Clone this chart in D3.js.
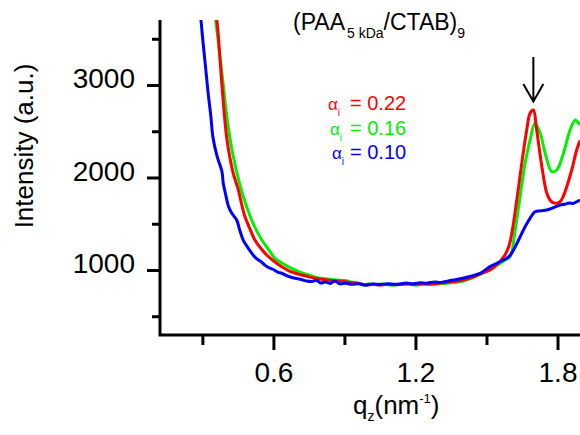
<!DOCTYPE html>
<html>
<head>
<meta charset="utf-8">
<script src="https://cdn.jsdelivr.net/npm/d3@7"></script>
<style>
  body { margin: 0; background: #fff; }
  svg { display: block; font-family: Arial, "Liberation Sans", sans-serif; }
</style>
</head>
<body>
<svg id="chart" width="580" height="435"></svg>
<script>
// curves, [q_z (nm^-1), intensity (a.u.)]
var blue = [[0.292,3760],[0.304,3430],[0.314,3180],[0.324,2920],[0.335,2680],[0.345,2430],[0.362,2230],[0.383,2060],[0.388,1940],[0.398,1820],[0.410,1690],[0.425,1610],[0.445,1540],[0.458,1430],[0.473,1320],[0.49,1250],[0.515,1160],[0.53,1120],[0.548,1090],[0.565,1050],[0.585,1020],[0.6,1005],[0.62,975],[0.635,965],[0.66,935],[0.691,910],[0.72,895],[0.74,880],[0.762,875],[0.78,890],[0.80,860],[0.82,870],[0.84,855],[0.86,880],[0.88,850],[0.903,856],[0.93,845],[0.96,850],[0.991,838],[1.02,848],[1.05,842],[1.08,852],[1.11,846],[1.135,849],[1.16,858],[1.19,852],[1.22,862],[1.25,858],[1.28,870],[1.31,866],[1.34,882],[1.37,895],[1.40,910],[1.43,930],[1.45,945],[1.473,964],[1.495,1000],[1.515,1036],[1.55,1080],[1.586,1126],[1.600,1160],[1.614,1216],[1.635,1320],[1.656,1432],[1.67,1500],[1.684,1559],[1.705,1630],[1.73,1640],[1.755,1649],[1.78,1670],[1.811,1703],[1.83,1710],[1.85,1725],[1.865,1720],[1.881,1738],[1.895,1757]];
var red = [[0.355,3760],[0.361,3700],[0.374,3292],[0.387,2859],[0.403,2427],[0.429,2059],[0.452,1865],[0.465,1720],[0.480,1576],[0.50,1450],[0.522,1324],[0.545,1240],[0.572,1162],[0.60,1100],[0.635,1036],[0.67,985],[0.72,946],[0.76,920],[0.804,899],[0.85,885],[0.88,880],[0.903,874],[0.94,860],[0.97,850],[0.991,838],[1.02,845],[1.05,838],[1.08,845],[1.11,840],[1.135,843],[1.17,848],[1.20,842],[1.23,852],[1.262,849],[1.29,855],[1.32,862],[1.35,872],[1.38,880],[1.402,892],[1.44,920],[1.473,957],[1.515,1000],[1.545,1060],[1.578,1162],[1.595,1260],[1.607,1397],[1.628,1757],[1.649,2153],[1.670,2513],[1.684,2694],[1.698,2730],[1.712,2513],[1.734,2117],[1.755,1829],[1.772,1745],[1.790,1721],[1.811,1738],[1.825,1800],[1.839,1900],[1.860,2081],[1.881,2297],[1.895,2400]];
var green = [[0.352,3760],[0.356,3700],[0.382,3140],[0.408,2567],[0.425,2300],[0.445,2059],[0.473,1792],[0.508,1541],[0.53,1420],[0.551,1324],[0.58,1220],[0.607,1126],[0.64,1070],[0.677,1018],[0.71,980],[0.748,946],[0.78,920],[0.82,905],[0.860,892],[0.903,886],[0.93,870],[0.96,858],[0.991,832],[1.00,850],[1.03,842],[1.06,848],[1.09,838],[1.135,843],[1.17,850],[1.20,838],[1.23,845],[1.262,843],[1.29,848],[1.32,855],[1.35,862],[1.38,870],[1.402,881],[1.44,915],[1.473,951],[1.515,1011],[1.55,1060],[1.578,1108],[1.600,1144],[1.621,1432],[1.642,1792],[1.663,2153],[1.684,2405],[1.705,2586],[1.727,2478],[1.748,2261],[1.776,2063],[1.797,2081],[1.825,2261],[1.853,2513],[1.875,2622],[1.889,2586],[1.895,2570]];

var xMajor = [0.6, 1.2, 1.8];
var xMinor = [0.3, 0.9, 1.5];
var yMajor = [1000, 2000, 3000];
var yMinor = [500, 1500, 2500, 3500];
var alphaValues = ["0.22", "0.16", "0.10"];
var alphaColors = ["#ff0000", "#00f000", "#0000ff"];
var peakQ = 1.698;

var svg = d3.select("#chart");

var x = d3.scaleLinear().domain([0.121, 1.895]).range([160, 580]);
var y = d3.scaleLinear().domain([297, 3703]).range([335, 20]);

svg.append("clipPath").attr("id", "plotclip")
    .append("rect")
    .attr("x", 160).attr("y", 20)
    .attr("width", 420).attr("height", 315);

var line = d3.line()
    .x(d => x(d[0]))
    .y(d => y(d[1]))
    .curve(d3.curveCatmullRom.alpha(0.5));

var curves = svg.append("g").attr("clip-path", "url(#plotclip)");
[[green, "#00f000"], [red, "#ff0000"], [blue, "#0000ff"]].forEach(function (s) {
    curves.append("path")
        .datum(s[0])
        .attr("d", line)
        .attr("fill", "none")
        .attr("stroke", s[1])
        .attr("stroke-width", 3)
        .attr("stroke-linejoin", "round");
});

// axes: minor ticks without labels, major ticks with labels
function styleAxis(g) {
    g.select(".domain").remove();
    g.selectAll(".tick line").attr("stroke", "#000").attr("stroke-width", 3);
}

svg.append("g").attr("transform", "translate(160,0)")
    .call(d3.axisLeft(y).tickValues(yMinor).tickSize(8).tickFormat(""))
    .call(styleAxis);
var yAx = svg.append("g").attr("transform", "translate(160,0)")
    .call(d3.axisLeft(y).tickValues(yMajor).tickSize(13).tickPadding(12).tickFormat(d3.format("d")))
    .call(styleAxis);
yAx.selectAll(".tick text")
    .attr("font-size", 28).attr("font-family", "Arial, 'Liberation Sans', sans-serif")
    .attr("fill", "#000").attr("dy", "0.1em");

svg.append("g").attr("transform", "translate(0,335)")
    .call(d3.axisBottom(x).tickValues(xMinor).tickSize(10).tickFormat(""))
    .call(styleAxis);
var xAx = svg.append("g").attr("transform", "translate(0,335)")
    .call(d3.axisBottom(x).tickValues(xMajor).tickSize(15).tickFormat(d3.format(".1f")))
    .call(styleAxis);
xAx.selectAll(".tick text")
    .attr("font-size", 28).attr("font-family", "Arial, 'Liberation Sans', sans-serif")
    .attr("fill", "#000").attr("y", 47).attr("dy", 0);

// spines
svg.append("path")
    .attr("d", "M160,20V335H580")
    .attr("fill", "none").attr("stroke", "#000").attr("stroke-width", 3);

// axis titles
svg.append("text")
    .attr("transform", "translate(33,146) rotate(-90)")
    .attr("text-anchor", "middle")
    .attr("font-size", 26)
    .text("Intensity (a.u.)");

var xt = svg.append("text").attr("x", 353).attr("y", 414).attr("font-size", 26);
xt.append("tspan").text("q");
xt.append("tspan").attr("font-size", 14).attr("dy", 7).text("z");
xt.append("tspan").attr("dy", -7).text("(nm");
xt.append("tspan").attr("font-size", 13).attr("dy", -11).text("-1");
xt.append("tspan").attr("dy", 11).text(")");

// sample title
var tt = svg.append("text").attr("x", 293).attr("y", 30).attr("font-size", 23);
tt.append("tspan").text("(PAA");
tt.append("tspan").attr("font-size", 14).attr("dy", 8).attr("dx", 2).text("5 kDa");
tt.append("tspan").attr("dy", -8).text("/CTAB)");
tt.append("tspan").attr("font-size", 14).attr("dy", 8).text("9");

// incidence angle labels
alphaValues.forEach(function (v, i) {
    var by = 110 + i * 24.5;
    var t = svg.append("text").attr("x", 328 + i * 2).attr("y", by).attr("fill", alphaColors[i]);
    t.append("tspan").attr("font-size", 17).text("α");
    t.append("tspan").attr("font-size", 10).attr("dy", 6).text("i");
    svg.append("text").attr("x", 350).attr("y", by)
        .attr("fill", alphaColors[i]).attr("font-size", 20)
        .text("= " + v);
});

// arrow marking the Bragg peak
var ax = x(peakQ);
svg.append("path")
    .attr("d", "M" + ax + ",57V101.5M" + (ax - 10) + ",84L" + ax + ",101.5L" + (ax + 10) + ",84")
    .attr("fill", "none").attr("stroke", "#000").attr("stroke-width", 2);
</script>
</body>
</html>
